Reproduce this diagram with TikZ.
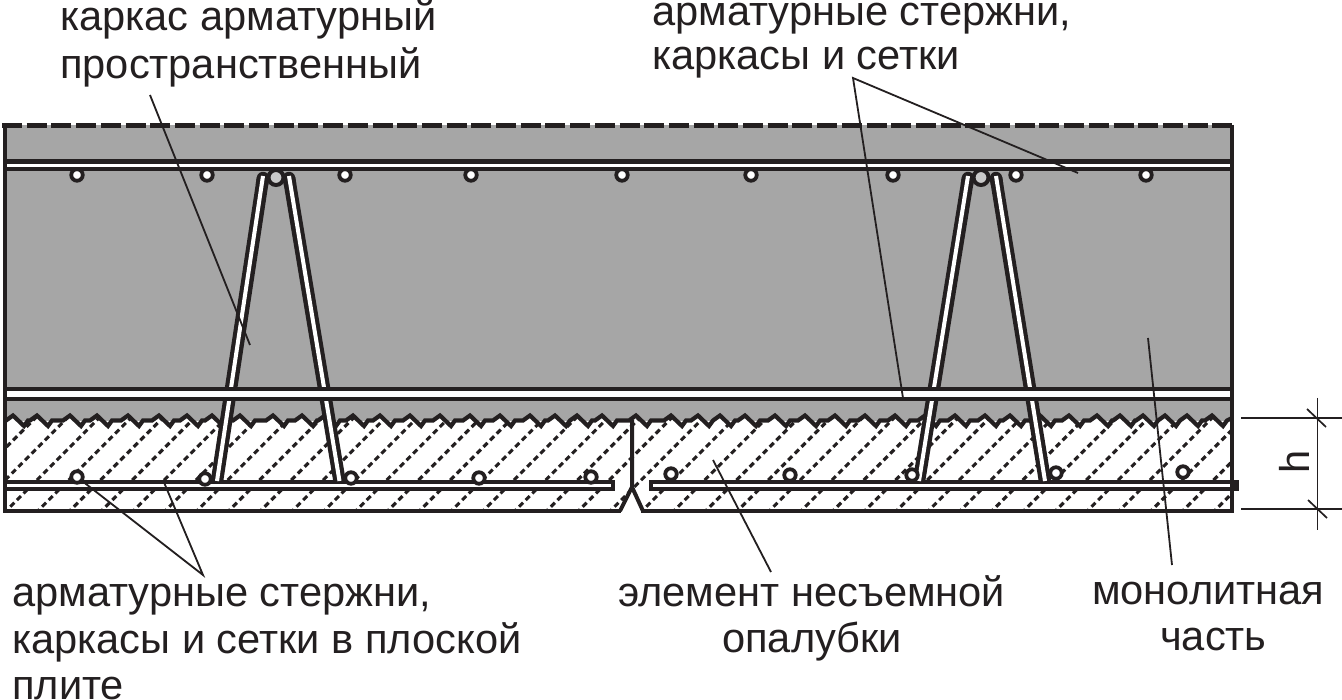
\documentclass[tikz,border=0pt]{standalone}
\usepackage{fontspec}
\setmainfont{Liberation Sans}
\definecolor{ink}{HTML}{231F20}
\definecolor{conc}{HTML}{A6A6A6}
\tikzset{
  zz/.style={insert path={
    \foreach \p in {13,37,70,97,128,159,187,212,240,273,302,325,353,380,410,440,470,500,530,555,577,602,636,671,698,720,745,775,805,835,865,895,925,955,985,1010,1040,1069,1097,1120,1143,1165,1187,1212}
    { -- (\p-7,420.5) -- (\p,415.5) -- (\p+11,426) -- (\p+15,420.5) } -- (1232,418)}},
  barline/.style={draw=ink,fill=white,line width=4.4},
  legblack/.style={draw=ink,line width=12.5},
  legwhite/.style={draw=white,line width=4},
  rodsmall/.style={circle,draw=ink,fill=white,line width=3.8,minimum size=11.5,inner sep=0,outer sep=0},
  rodbig/.style={circle,draw=ink,fill=conc!60!white,line width=4,minimum size=15,inner sep=0,outer sep=0},
  leader/.style={draw=ink,line width=1.8},
  dimline/.style={draw=ink,line width=1.7},
  wall/.style={draw=ink,line width=4.6},
  lbl/.style={font=\fontsize{41.6}{41.6}\selectfont,text=ink,inner sep=0,anchor=base west}
}
\begin{document}
\begin{tikzpicture}[x=1pt,y=-1pt]
\useasboundingbox (0,0) rectangle (1342,700);
\fill[white] (0,0) rectangle (1342,700);
% concrete
\fill[conc] (5,125) -- (1232,125) -- (1232,421) -- (5,421) -- cycle;
% hatched precast layer
\begin{scope}
\path[clip] (5,420) [zz] -- (1232,511) -- (642,511) -- (632,487) -- (622,511) -- (5,511) -- cycle;
\fill[white] (0,400) rectangle (1240,520);
\foreach \k in {-4,...,40} {
  \draw[ink,line width=3.1,dash pattern=on 5.6 off 3.8] ({517+31.8*\k-520},520) -- ++(130,-130);
}
\end{scope}
\draw[ink,line width=4.2] (5,420) [zz];
% joint
\draw[ink,line width=4] (632,420) -- (632,487) (620,511) -- (632,487) -- (643,511);
\draw[wall] (5,511) -- (621,511) (641,511) -- (1232,511);
% bottom slab bars
\draw[barline] (5,482) rectangle (613,489);
\draw[barline] (651,482) rectangle (1236.5,489);
% truss legs
\foreach \a/\b in {263/217,289/339.5,968/919,996/1045} {
  \draw[legblack,line cap=round] (\a,178) -- ({\a+(\b-\a)*0.02},184);
  \draw[legblack] (\a,178) -- (\b,481);
  \draw[legwhite] (\a,176) -- (\b,481);
}
\draw[barline,line width=4.6] (5,389) rectangle (1232,399);
\draw[barline] (5,161.5) rectangle (1232,169);
% rods
\foreach \n/\x/\y in {t1/77/175,t2/207/175,t3/345/175,t4/471/175,t5/622/175,t6/751/175,t7/893/175,t8/1016/175,t9/1146/175,
  b1/77/477,b2/205/479,b3/351/478,b4/479/478,b5/591/477,b6/671/474,b7/790/475,b8/912/475,b9/1056/473,b10/1183/472}
  \node[rodsmall] (\n) at (\x,\y) {};
\node[rodbig] (bigA) at (276,177.5) {};
\node[rodbig] (bigB) at (981,177.5) {};
% walls and broken top edge
\draw[wall] (5,125) -- (5,513);
\draw[wall] (1232,125) -- (1232,513);
\draw[ink,line width=4.6,dash pattern=on 20 off 4.7] (2,125.5) -- (1234,125.5);
% labels
\node[lbl] (cage) at (60,31) {каркас арматурный};
\node[lbl] (cage2) at (60,78.5) {пространственный};
\node[lbl] (rods) at (652,26) {арматурные стержни,};
\node[lbl] (rods2) at (652,70) {каркасы и сетки};
\node[lbl] (slab) at (12,606.5) {арматурные стержни,};
\node[lbl] (slab2) at (12,653.5) {каркасы и сетки в плоской};
\node[lbl] (slab3) at (12,699) {плите};
\node[lbl] (form) at (618,606.5) {элемент несъемной};
\node[lbl] (form2) at (722,652.5) {опалубки};
\node[lbl] (mono) at (1092,604.5) {монолитная};
\node[lbl] (mono2) at (1160,650.5) {часть};
\node[font=\fontsize{41.6}{41.6}\selectfont,text=ink,inner sep=0,rotate=90,anchor=base] (hh) at (1309,462) {h};
% leaders
\coordinate (c1) at (150,95);
\coordinate (c1e) at (250,345);
\coordinate (c2) at (853,78);
\coordinate (c2a) at (903,398);
\coordinate (c2b) at (1078,173);
\coordinate (c3) at (203,575);
\coordinate (c3b) at (163,480);
\coordinate (c4) at (771,572);
\coordinate (c4e) at (713,460);
\coordinate (c5) at (1172,565);
\coordinate (c5e) at (1148,338);
\draw[leader] (c1) -- (c1e);
\draw[leader] (c2a) -- (c2) -- (c2b);
\draw[leader] (b1) -- (c3) -- (c3b);
\draw[leader] (c4) -- (c4e);
\draw[leader] (c5) -- (c5e);
% dimension
\coordinate (d1) at (1241,418);
\coordinate (d1e) at (1342,418);
\coordinate (d2) at (1241,509);
\coordinate (d2e) at (1342,509);
\coordinate (dt) at (1317.5,398);
\coordinate (db) at (1317.5,530);
\coordinate (t1a) at (1307,409);
\coordinate (t1b) at (1326,427);
\coordinate (t2a) at (1308,500);
\coordinate (t2b) at (1327,518);
\draw[dimline] (d1) -- (d1e);
\draw[dimline] (d2) -- (d2e);
\draw[dimline] (dt) -- (db);
\draw[dimline] (t1a) -- (t1b);
\draw[dimline] (t2a) -- (t2b);
\end{tikzpicture}
\end{document}
